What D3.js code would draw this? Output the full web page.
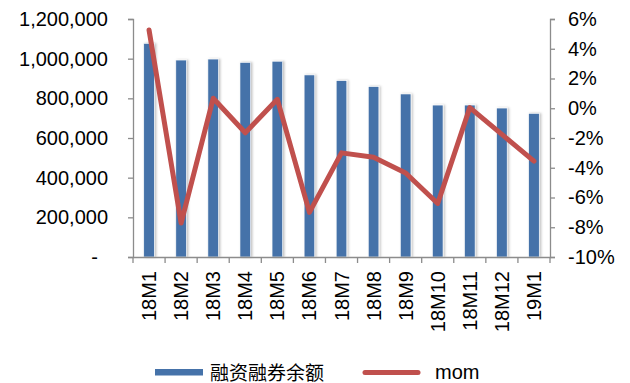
<!DOCTYPE html>
<html>
<head>
<meta charset="utf-8">
<script src="https://cdn.jsdelivr.net/npm/d3@7/dist/d3.min.js"></script>
<style>
  html, body { margin: 0; padding: 0; background: #fff; }
  svg { display: block; }
  text { font-family: "Liberation Sans", Arial, sans-serif; fill: #000; }
</style>
</head>
<body>
<svg id="chart" width="630" height="383"></svg>
<script>
// Months on the category axis
const months = ["18M1","18M2","18M3","18M4","18M5","18M6","18M7","18M8","18M9","18M10","18M11","18M12","19M1"];
// Margin financing & securities lending balance (bars, left axis)
const balance = [1077000, 993000, 998000, 981000, 987000, 918000, 889000, 859000, 822000, 766000, 766000, 751000, 724000];
// Month-on-month change, in percent (line, right axis)
const mom = [5.26, -7.72, 0.67, -1.65, 0.60, -7.00, -3.00, -3.30, -4.35, -6.40, 0.04, -1.76, -3.56];
// Axis ticks
const leftTicks = [0, 200000, 400000, 600000, 800000, 1000000, 1200000];
const rightTicks = [-10, -8, -6, -4, -2, 0, 2, 4, 6];
// Legend labels
const seriesNames = ["融资融券余额", "mom"];

const svg = d3.select("#chart");
const axisColor = "#8c8c8c";
const barColor = "#4572a9";
const lineColor = "#c0504d";

const plot = { left: 133, right: 550, top: 19, bottom: 257 };

const x = d3.scaleBand().domain(months).range([plot.left, plot.right]).padding(0);
const yL = d3.scaleLinear().domain([0, 1200000]).range([plot.bottom, plot.top]);
const yR = d3.scaleLinear().domain([-10, 6]).range([plot.bottom, plot.top]);

// soft shadow behind the bars
const defs = svg.append("defs");
const f = defs.append("filter").attr("id", "barShadow")
  .attr("x", "-50%").attr("y", "-5%").attr("width", "200%").attr("height", "110%");
f.append("feDropShadow").attr("dx", 1.5).attr("dy", 0).attr("stdDeviation", 1)
  .attr("flood-color", "#000").attr("flood-opacity", 0.25);

// bars
const barW = x.bandwidth() * 0.33;
svg.append("g").selectAll("rect").data(balance).join("rect")
  .attr("x", (d, i) => x(months[i]) + x.bandwidth() / 2 - barW / 2)
  .attr("y", d => yL(d))
  .attr("width", barW)
  .attr("height", d => yL(0) - yL(d))
  .attr("fill", barColor)
  .attr("stroke", "#fff").attr("stroke-width", 0.6)
  .attr("filter", "url(#barShadow)");

// left axis
const fmtThousands = d3.format(",");
const gL = svg.append("g").attr("transform", `translate(${plot.left},0)`)
  .call(d3.axisLeft(yL).tickValues(leftTicks).tickSize(5).tickPadding(20)
    .tickFormat(d => d === 0 ? "-" : fmtThousands(d)));
gL.selectAll("text").attr("font-size", 20)
  .attr("dx", d => d === 0 ? -10 : 0);

// right axis
const gR = svg.append("g").attr("transform", `translate(${plot.right},0)`)
  .call(d3.axisRight(yR).tickValues(rightTicks).tickSize(5).tickPadding(13)
    .tickFormat(d => (d < 0 ? "-" : "") + Math.abs(d) + "%"));
gR.selectAll("text").attr("font-size", 20);

// category axis with ticks between categories
const gX = svg.append("g").attr("transform", `translate(0,${plot.bottom})`)
  .call(d3.axisBottom(x).tickSize(0).tickFormat(""));
gX.selectAll(".tick").remove();
const boundaries = months.map(m => x(m)).concat([plot.right]);
gX.selectAll("line.sep").data(boundaries).join("line").attr("class", "sep")
  .attr("x1", d => d).attr("x2", d => d).attr("y1", 0).attr("y2", 6)
  .attr("stroke", axisColor);
svg.append("g").selectAll("text").data(months).join("text")
  .attr("transform", d => `translate(${x(d) + x.bandwidth() / 2},271) rotate(-90)`)
  .attr("text-anchor", "end")
  .attr("dominant-baseline", "central")
  .attr("font-size", 20)
  .text(d => d);

[gL, gR, gX].forEach(g => {
  g.select(".domain").attr("stroke", axisColor).attr("stroke-width", 1.3);
  g.selectAll(".tick line").attr("stroke", axisColor).attr("stroke-width", 1.3);
});
gX.selectAll("line.sep").attr("stroke-width", 1.3);

// mom line
const line = d3.line()
  .x((d, i) => x(months[i]) + x.bandwidth() / 2)
  .y(d => yR(d));
svg.append("path").datum(mom)
  .attr("d", line)
  .attr("fill", "none")
  .attr("stroke", lineColor)
  .attr("stroke-width", 5)
  .attr("stroke-linejoin", "round")
  .attr("stroke-linecap", "round");

// legend
const lg = svg.append("g");
lg.append("rect").attr("x", 155).attr("y", 369).attr("width", 48).attr("height", 6.5).attr("fill", barColor);
lg.append("text").attr("x", 210).attr("y", 371).attr("dominant-baseline", "central")
  .attr("font-size", 19)
  .style("font-family", "'Noto Sans CJK SC', sans-serif")
  .text(seriesNames[0]);
lg.append("line").attr("x1", 365).attr("x2", 418).attr("y1", 372.5).attr("y2", 372.5)
  .attr("stroke", lineColor).attr("stroke-width", 5).attr("stroke-linecap", "round");
lg.append("text").attr("x", 435).attr("y", 372).attr("dominant-baseline", "central")
  .attr("font-size", 20)
  .text(seriesNames[1]);
</script>
</body>
</html>
